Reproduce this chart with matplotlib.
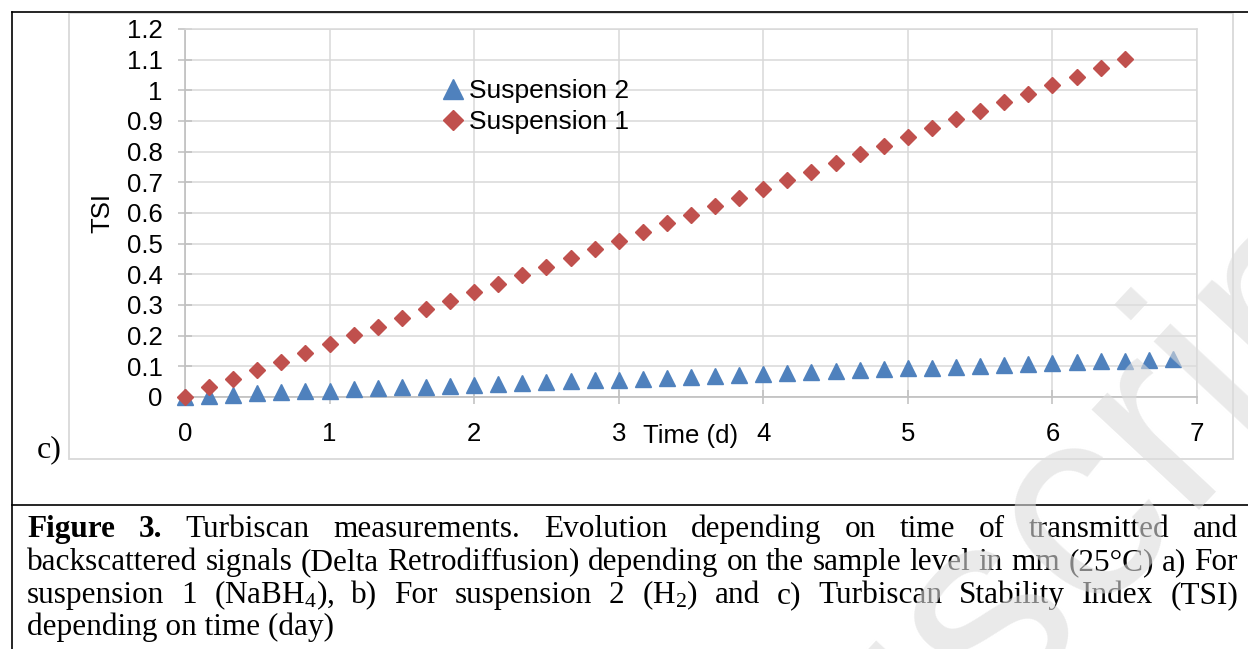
import numpy as np
import matplotlib.pyplot as plt
from matplotlib.lines import Line2D
from matplotlib.patches import Rectangle

plt.rcParams['font.family'] = 'Liberation Sans'
plt.rcParams['mathtext.fontset'] = 'custom'
plt.rcParams['mathtext.rm'] = 'Liberation Serif'
plt.rcParams['mathtext.it'] = 'Liberation Serif:italic'

# sampling every 4 hours
hours_1 = [0, 4, 8, 12, 16, 20, 24, 28, 32, 36, 40, 44, 48, 52, 56, 60, 64, 68, 72, 76,
           80, 84, 88, 92, 96, 100, 104, 108, 112, 116, 120, 124, 128, 132, 136, 140,
           144, 148, 152, 156]
tsi_1 = [0.000, 0.032, 0.060, 0.088, 0.115, 0.144, 0.172, 0.201, 0.227, 0.257,
         0.286, 0.313, 0.341, 0.369, 0.398, 0.425, 0.453, 0.482, 0.510, 0.539,
         0.566, 0.593, 0.623, 0.650, 0.678, 0.707, 0.735, 0.762, 0.792, 0.819,
         0.849, 0.876, 0.905, 0.933, 0.961, 0.988, 1.016, 1.043, 1.072, 1.101]

hours_2 = hours_1 + [160, 164]
tsi_2 = [0.000, 0.003, 0.008, 0.013, 0.016, 0.018, 0.021, 0.025, 0.028, 0.031,
         0.033, 0.036, 0.039, 0.042, 0.045, 0.048, 0.051, 0.054, 0.056, 0.060,
         0.063, 0.066, 0.069, 0.072, 0.076, 0.079, 0.082, 0.085, 0.088, 0.090,
         0.093, 0.096, 0.098, 0.101, 0.104, 0.107, 0.111, 0.113, 0.116, 0.119,
         0.122, 0.124]

yticks = [0, 0.1, 0.2, 0.3, 0.4, 0.5, 0.6, 0.7, 0.8, 0.9, 1, 1.1, 1.2]
ylabels = ['0', '0.1', '0.2', '0.3', '0.4', '0.5', '0.6', '0.7', '0.8', '0.9', '1', '1.1', '1.2']
xticks = [0, 1, 2, 3, 4, 5, 6, 7]

caption = [
    [("Figure", True), ("3.", True), ("Turbiscan", False), ("measurements.", False),
     ("Evolution", False), ("depending", False), ("on", False), ("time", False),
     ("of", False), ("transmitted", False), ("and", False)],
    [(w, False) for w in "backscattered signals (Delta Retrodiffusion) depending on the "
     "sample level in mm (25°C) a) For".split()],
    [(w, False) for w in ["suspension", "1", "(NaBH$_4$),", "b)", "For", "suspension", "2",
                          "(H$_2$)", "and", "c)", "Turbiscan", "Stability", "Index", "(TSI)"]],
]
last_line = "depending on time (day)"

W, H = 1248, 649
def fx(px):
    return px / W
def fy(py):
    return 1 - py / H

fs = 18.5

fig = plt.figure(figsize=(12.48, 6.49), dpi=100)

ax = fig.add_axes([fx(185), fy(397), (1197 - 185) / W, (397 - 29) / H])
t1 = np.array(hours_1) / 24
t2 = np.array(hours_2) / 24
ax.plot(t2, tsi_2, ls='none', marker='^', ms=11.5, color='#4F81BD', mec='#4F81BD',
        clip_on=False, zorder=3, label='Suspension 2')
ax.plot(t1, tsi_1, ls='none', marker='D', ms=8.6, color='#C0504D', mec='#C0504D',
        clip_on=False, zorder=4, label='Suspension 1')
ax.set_xlim(0, 7)
ax.set_ylim(0, 1.2)
ax.set_xticks(xticks)
ax.set_yticks(yticks)
ax.set_yticklabels(ylabels)
ax.grid(True, color='#d9d9d9', lw=1.1)
ax.set_axisbelow(True)
for s in ['top', 'right']:
    ax.spines[s].set_color('#d9d9d9')
    ax.spines[s].set_linewidth(1.1)
for s in ['left', 'bottom']:
    ax.spines[s].set_color('#bfbfbf')
    ax.spines[s].set_linewidth(1.2)
ax.tick_params(direction='inout', length=10.5, width=1.1, color='#bfbfbf', labelsize=fs)
ax.tick_params(axis='y', pad=11)
ax.tick_params(axis='x', pad=13)

ax.legend(loc='upper left', bbox_to_anchor=(fx(440), fy(79)), bbox_transform=fig.transFigure,
          frameon=False, borderpad=0, borderaxespad=0, handlelength=0.95, handletextpad=0.15,
          labelspacing=0.28, fontsize=19, markerscale=1.22)

fig.text(fx(691), fy(436), 'Time (d)', fontsize=fs, ha='center', va='center')
fig.text(fx(102), fy(213), 'TSI', fontsize=fs, ha='center', va='center', rotation=90)
fig.text(fx(37), fy(450), 'c)', fontsize=23, family='Liberation Serif', ha='left', va='center')

fig.add_artist(Rectangle((fx(69), fy(459)), (1233 - 69) / W, (459 - 13) / H,
                         transform=fig.transFigure, fill=False, ec='#d9d9d9', lw=1.3))
for xs, ys in [([12, W], [12, 12]), ([12, 12], [12, H]), ([12, W], [505, 505])]:
    fig.add_artist(Line2D([fx(v) for v in xs], [fy(v) for v in ys], color='black',
                          lw=1.2, transform=fig.transFigure))

# caption, justified between x=27 and x=1238
renderer = fig.canvas.get_renderer()
probe = fig.text(0, 0, " ".join(w for w, b in caption[1]), fontsize=20, family='Liberation Serif')
natural = probe.get_window_extent(renderer).width
probe.remove()
cap_fs = 20 * (1238 - 27) / natural * 0.995

baselines = [537, 570, 603, 635]
for words, yb in zip(caption, baselines):
    texts = [fig.text(0, fy(yb), w, fontsize=cap_fs, family='Liberation Serif',
                      fontweight='bold' if b else 'normal', ha='left', va='baseline')
             for w, b in words]
    widths = [t.get_window_extent(renderer).width for t in texts]
    gap = (1238 - 27 - sum(widths)) / (len(texts) - 1)
    x = 27
    for t, w in zip(texts, widths):
        t.set_x(fx(x))
        x += w + gap
fig.text(fx(27), fy(baselines[3]), last_line, fontsize=cap_fs, family='Liberation Serif',
         ha='left', va='baseline')

# faint watermark across the page
fig.text(517 / W, fy(1217), 'Manuscript', rotation=47, rotation_mode='anchor', ha='left',
         va='baseline', fontsize=200, color='#dcdcdc', alpha=0.6, zorder=10)

fig.savefig('out.png', dpi=100)
